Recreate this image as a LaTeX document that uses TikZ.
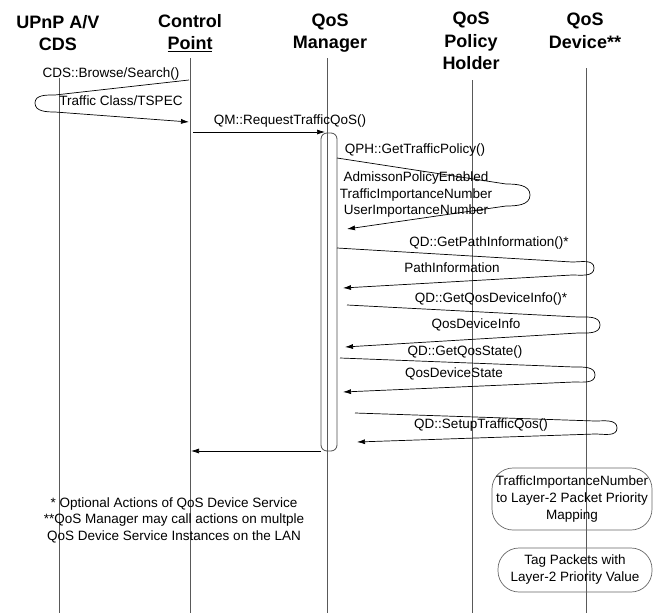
\documentclass[tikz,border=0pt]{standalone}
\usepackage{fontspec}
\setmainfont{Liberation Sans}
\usepackage{tikz}
\usetikzlibrary{arrows,arrows.meta,calc}

\begin{document}
\begin{tikzpicture}
[x=1pt,y=-1pt,
head/.style={font=\bfseries\fontsize{18}{22.5}\selectfont,align=center,inner sep=0pt},
msgLabel/.style={font=\fontsize{13.5}{16.5}\selectfont,align=center,inner sep=0pt},
lifeline/.style={draw=black!65,line width=0.8pt},
edge/.style={line width=0.7pt},
activation/.style={draw=black!70,line width=0.8pt,rounded corners=6pt,minimum width=16,minimum height=318,inner sep=0pt},
rightEnd/.style={->,>={Latex[length=8pt,width=5pt]}},
actionBox/.style={draw=black!60,line width=0.7pt,rounded corners=21pt,align=center,inner sep=0pt,font=\fontsize{13.5}{17}\selectfont}]
\useasboundingbox (0,0) rectangle (653,613);
% heads
\node[head] (cds) at (58,33) {UPnP A/V\\CDS};
\node[head] (cp) at (190,33) {Control\\\underline{Point}};
\node[head] (qm) at (330,33) {QoS\\Manager};
\node[head] (qph) at (471,41) {QoS\\Policy\\Holder};
\node[head] (qd) at (585,31) {QoS\\Device**};
% lifelines
\coordinate (cdsTop) at (59,78);  \coordinate (cdsBot) at (59,613);
\coordinate (cpTop) at (190,58);  \coordinate (cpBot) at (190,613);
\coordinate (qmTop) at (327,58);  \coordinate (qmBot) at (327,613);
\coordinate (qphTop) at (472,80); \coordinate (qphBot) at (472,613);
\coordinate (qdTop) at (586,68);  \coordinate (qdBot) at (586,613);
\draw[lifeline] (cdsTop) -- (cdsBot);
\draw[lifeline] (cpTop) -- (cpBot);
\draw[lifeline] (qmTop) -- (qmBot);
\draw[lifeline] (qphTop) -- (qphBot);
\draw[lifeline] (qdTop) -- (qdBot);
\node[activation] (act) at (329,292) {};

% CDS browse
\coordinate (m1a) at (189,80);  \coordinate (m1b) at (55,95);
\coordinate (m1tip) at (35,103); \coordinate (m1c) at (55,112);
\coordinate (m1d) at (189,122);
\draw[edge,rightEnd] (m1a) -- (m1b) to[out=180,in=90] (m1tip) to[out=-90,in=180] (m1c) -- (m1d);
\node[msgLabel] (l1) at (111,74) {CDS::Browse/Search()};
\node[msgLabel] (l1r) at (121,101) {Traffic Class/TSPEC};

% request to QoS Manager
\coordinate (m2a) at (193,132); \coordinate (m2b) at (325,132);
\draw[edge,rightEnd] (m2a) -- (m2b);
\node[msgLabel] (l2) at (290,121) {QM::RequestTrafficQoS()};

% policy holder
\coordinate (m3a) at (337,158);  \coordinate (m3b) at (506,184);
\coordinate (m3tip) at (530,195); \coordinate (m3c) at (506,206);
\coordinate (m3d) at (347,229);
\draw[edge,rightEnd] (m3a) -- (m3b) to[out=0,in=90] (m3tip) to[out=-90,in=0] (m3c) -- (m3d);
\node[msgLabel] (l3) at (415,150) {QPH::GetTrafficPolicy()};
\node[msgLabel] (l3r) at (416,195) {AdmissonPolicyEnabled\\TrafficImportanceNumber\\UserImportanceNumber};

% path information
\coordinate (m4a) at (337,248);  \coordinate (m4b) at (572,262);
\coordinate (m4tip) at (594,268); \coordinate (m4c) at (572,275);
\coordinate (m4d) at (343,288);
\draw[edge,rightEnd] (m4a) -- (m4b) to[out=0,in=90] (m4tip) to[out=-90,in=0] (m4c) -- (m4d);
\node[msgLabel] (l4) at (489,243) {QD::GetPathInformation()*};
\node[msgLabel] (l4r) at (452,268) {PathInformation};

% device info
\coordinate (m5a) at (347,305);  \coordinate (m5b) at (578,317);
\coordinate (m5tip) at (600,325); \coordinate (m5c) at (578,333);
\coordinate (m5d) at (345,347);
\draw[edge,rightEnd] (m5a) -- (m5b) to[out=0,in=90] (m5tip) to[out=-90,in=0] (m5c) -- (m5d);
\node[msgLabel] (l5) at (491,299) {QD::GetQosDeviceInfo()*};
\node[msgLabel] (l5r) at (476,325) {QosDeviceInfo};

% device state
\coordinate (m6a) at (340,358);  \coordinate (m6b) at (574,367);
\coordinate (m6tip) at (595,375); \coordinate (m6c) at (574,382);
\coordinate (m6d) at (343,392);
\draw[edge,rightEnd] (m6a) -- (m6b) to[out=0,in=90] (m6tip) to[out=-90,in=0] (m6c) -- (m6d);
\node[msgLabel] (l6) at (465,352) {QD::GetQosState()};
\node[msgLabel] (l6r) at (454,374) {QosDeviceState};

% setup
\coordinate (m7a) at (355,413);  \coordinate (m7b) at (595,421);
\coordinate (m7tip) at (617,428); \coordinate (m7c) at (595,434);
\coordinate (m7d) at (357,442);
\draw[edge,rightEnd] (m7a) -- (m7b) to[out=0,in=90] (m7tip) to[out=-90,in=0] (m7c) -- (m7d);
\node[msgLabel] (l7) at (481,425) {QD::SetupTrafficQos()};

% back to control point
\coordinate (m8a) at (321,451); \coordinate (m8b) at (191,451);
\draw[edge,rightEnd] (m8a) -- (m8b);

% footnote
\node[msgLabel] (note) at (174,520) {* Optional Actions of QoS Device Service\\**QoS Manager may call actions on multple\\QoS Device Service Instances on the LAN};

% device actions
\node[actionBox,minimum width=160,minimum height=62] (map) at (572,499) {TrafficImportanceNumber\\to Layer-2 Packet Priority\\Mapping};
\node[actionBox,minimum width=154,minimum height=44] (tag) at (575,570) {Tag Packets with\\Layer-2 Priority Value};
\end{tikzpicture}
\end{document}
